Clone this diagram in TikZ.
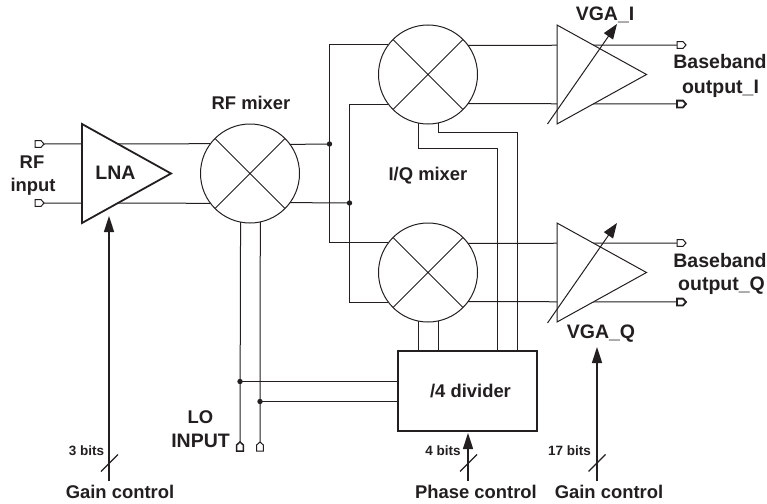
\documentclass[tikz,border=0pt]{standalone}
\usepackage{fontspec}
\setmainfont{Liberation Sans}
\usetikzlibrary{arrows.meta,calc}
\definecolor{ink}{HTML}{231F20}
\tikzset{
	wire/.style={draw=ink, line width=1pt},
	heavy/.style={draw=ink, line width=1.8pt},
	mixer/.style={circle, wire, fill=white, minimum size=99pt, inner sep=0pt, outer sep=0pt},
	divbox/.style={rectangle, heavy, minimum width=139pt, minimum height=80pt, inner sep=0pt, outer sep=0pt},
	biglabel/.style={anchor=base, text=ink, font=\fontsize{18.4}{20}\selectfont\bfseries, inner sep=0pt},
	widelabel/.style={anchor=base, text=ink, font=\fontsize{19.5}{20}\selectfont\bfseries, inner sep=0pt},
	bitlabel/.style={anchor=base, text=ink, font=\fontsize{13.5}{15}\selectfont\bfseries, inner sep=0pt},
	ctrlarrow/.style={draw=ink, line width=1.6pt, -{Triangle[length=16pt,width=10pt]}},
	vgaarrow/.style={draw=ink, line width=1pt, -{Triangle[length=15pt,width=11pt]}},
}
\def\port[#1](#2)(#3){\draw[#1,fill=white,shift={(#2)},rotate=#3] (-9,-3.4) -- (-3,-3.4) -- (0,0) -- (-3,3.4) -- (-9,3.4) -- cycle;}
\def\busmark(#1){\draw[wire,line width=1.2pt] ($(#1)+(-8.5,8.5)$) -- ($(#1)+(8.5,-8.5)$);}

\begin{document}
\begin{tikzpicture}[x=1pt,y=-1pt]
	\useasboundingbox (0,0) rectangle (767,503);
	%%%%% BLOCKS %%%%%

	\node[mixer] (rfmix) at (250,173.5) {};
	\node[mixer] (imix) at (428,74.5) {};
	\node[mixer] (qmix) at (428,272.5) {};
	\node[divbox] (divider) at (467.5,391) {};

	\foreach \m in {rfmix,imix,qmix}
		\draw[wire] (\m.45) -- (\m.225) (\m.135) -- (\m.315);

	\coordinate (rftop) at (44,144);
	\coordinate (rfbot) at (44,203);
	\coordinate (jtop) at (329.5,144);
	\coordinate (jbot) at (349.5,203);
	\coordinate (jloa) at (240,381.5);
	\coordinate (jlob) at (260,401.5);
	\coordinate (loa) at (240,442);
	\coordinate (lob) at (260,442);
	\coordinate (ckia) at (497,148);
	\coordinate (ckib) at (517,132);
	\coordinate (ioutt) at (686,45);
	\coordinate (ioutb) at (686,104);
	\coordinate (qoutt) at (686,243);
	\coordinate (qoutb) at (686,302);

	%%%%% WIRES %%%%%

	\draw[wire] (rftop) -- (rfmix.143.4);
	\draw[wire] (rfbot) -- (rfmix.-143.4);
	\draw[wire] (rfmix.36.6) -- (jtop);
	\draw[wire] (rfmix.-36.6) -- (jbot);
	\draw[wire] (imix.143.4) -| (jtop) |- (qmix.143.4);
	\draw[wire] (imix.-143.4) -| (jbot) |- (qmix.-143.4);

	\draw[wire] (imix.36.6) -- (ioutt);
	\draw[wire] (imix.-36.6) -- (ioutb);
	\draw[wire] (qmix.36.6) -- (qoutt);
	\draw[wire] (qmix.-36.6) -- (qoutb);

	\draw[wire] (imix.-101.6) |- (ckia) -- (ckia |- divider.north);
	\draw[wire] (imix.-78.4) |- (ckib) -- (ckib |- divider.north);
	\draw[wire] (qmix.-101.6) -- (qmix.-101.6 |- divider.north);
	\draw[wire] (qmix.-78.4) -- (qmix.-78.4 |- divider.north);

	\draw[wire] (rfmix.-101.6) -- (loa);
	\draw[wire] (rfmix.-78.4) -- (lob);
	\draw[wire] (jloa) -- (jloa -| divider.west);
	\draw[wire] (jlob) -- (jlob -| divider.west);

	\foreach \j in {jtop,jbot,jloa,jlob}
		\fill[ink] (\j) circle (2.7pt);

	%%%%% AMPLIFIERS %%%%%

	\draw[heavy,fill=white] (82,124) -- (82,223) -- (171,173.5) -- cycle;
	\draw[wire,fill=white] (557,25) -- (557,124) -- (646.5,74.5) -- cycle;
	\draw[wire,fill=white] (557,223) -- (557,322) -- (646.5,272.5) -- cycle;

	\coordinate (vgaitip) at (617,24);
	\coordinate (vgaqtip) at (617,223);
	\draw[vgaarrow] (547.5,124) -- (vgaitip);
	\draw[vgaarrow] (547.5,323) -- (vgaqtip);

	%%%%% PORTS %%%%%

	\port[wire](rftop)(0)
	\port[wire](rfbot)(0)
	\port[wire,line width=1.5pt](loa)(90)
	\port[wire](lob)(90)
	\port[wire,shift={(9,0)}](ioutt)(0)
	\port[wire,line width=1.8pt,shift={(9,0)}](ioutb)(0)
	\port[wire,shift={(9,0)}](qoutt)(0)
	\port[wire,line width=1.8pt,shift={(9,0)}](qoutb)(0)

	%%%%% CONTROL %%%%%

	\coordinate (lnagain) at (109,481);
	\coordinate (lnatip) at (109,216);
	\coordinate (phase) at (468,481);
	\coordinate (phasetip) at (468,433);
	\coordinate (vgagain) at (597,481);
	\coordinate (vgagaintip) at (597,347);

	\draw[ctrlarrow] (lnagain) -- (lnatip);
	\draw[ctrlarrow] (phase) -- (phasetip);
	\draw[ctrlarrow] (vgagain) -- (vgagaintip);

	\busmark(109.5,463)
	\busmark(468.5,463)
	\busmark(597,463)

	%%%%% LABELS %%%%%

	\node[biglabel] (rflab) at (32,168) {RF};
	\node[biglabel] (inputlab) at (33,191) {input};
	\node[widelabel] (lnalab) at (115.5,179) {LNA};
	\node[biglabel] (rfmixlab) at (251,109) {RF mixer};
	\node[biglabel] (iqlab) at (428,180) {I/Q mixer};
	\node[widelabel] (vgailab) at (605,21) {VGA\_I};
	\node[widelabel] (bbilab) at (720,68) {Baseband};
	\node[widelabel] (outilab) at (720.5,93) {output\_I};
	\node[widelabel] (bbqlab) at (720,267) {Baseband};
	\node[widelabel] (outqlab) at (721.5,290) {output\_Q};
	\node[widelabel] (vgaqlab) at (601,338) {VGA\_Q};
	\node[biglabel] (lolab) at (200.5,423) {LO};
	\node[widelabel] (lopin) at (200.5,447) {INPUT};
	\node[biglabel] (divlab) at (470.5,397) {/4 divider};
	\node[biglabel] (lnagainlab) at (120,498) {Gain control};
	\node[biglabel] (phaselab) at (476,498) {Phase control};
	\node[biglabel] (vgagainlab) at (609,498) {Gain control};
	\node[bitlabel] (lnabits) at (86.5,455) {3 bits};
	\node[bitlabel] (phasebits) at (443,455) {4 bits};
	\node[bitlabel] (vgabits) at (569.5,455) {17 bits};
\end{tikzpicture}
\end{document}
